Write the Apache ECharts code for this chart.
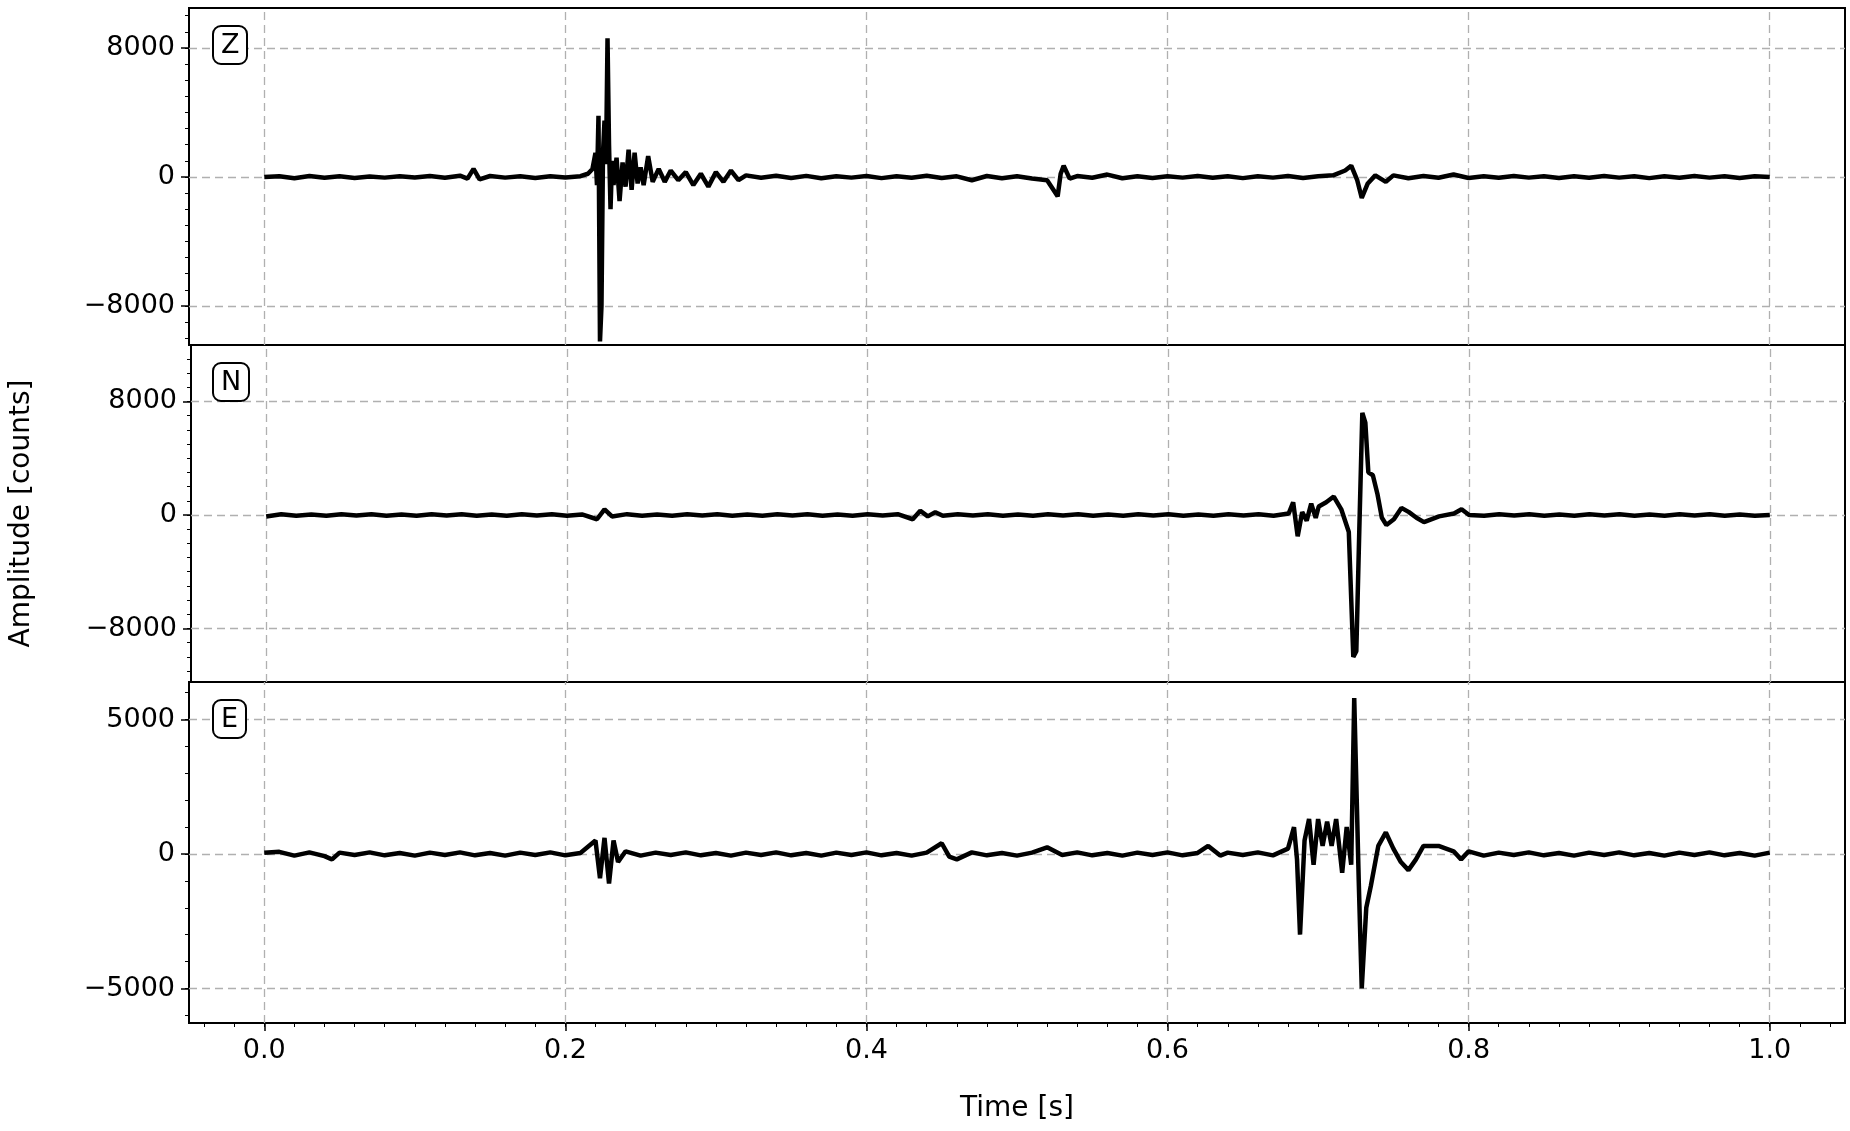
<!DOCTYPE html>
<html><head><meta charset="utf-8">
<script src="https://cdn.jsdelivr.net/npm/echarts@6/dist/echarts.min.js"></script>
<style>html,body{margin:0;padding:0;background:#fff}#c{width:1850px;height:1131px}</style>
</head><body><div id="c"></div>
<script>
const channels = ['Z','N','E'];
const xTicks = [0,0.2,0.4,0.6,0.8,1.0];
const zTicks = [-8000,0,8000];
const nTicks = [-8000,0,8000];
const eTicks = [-5000,0,5000];
const zData = [[0,0],[0.01,50],[0.02,-80],[0.03,60],[0.04,-50],[0.05,40],[0.06,-60],[0.07,30],[0.08,-40],[0.09,50],[0.1,-30],[0.11,60],[0.12,-50],[0.13,80],[0.135,-100],[0.139,500],[0.143,-150],[0.15,60],[0.16,-40],[0.17,50],[0.18,-60],[0.19,40],[0.2,-30],[0.21,50],[0.215,200],[0.218,500],[0.22,1500],[0.221,-500],[0.222,3800],[0.223,-10200],[0.224,-8000],[0.225,1500],[0.226,3500],[0.227,800],[0.228,8600],[0.229,2000],[0.23,-2000],[0.231,1000],[0.232,-500],[0.234,1200],[0.236,-1500],[0.238,900],[0.24,-600],[0.242,1700],[0.244,-800],[0.246,1500],[0.248,-400],[0.25,600],[0.252,-500],[0.255,1300],[0.258,-300],[0.262,500],[0.266,-300],[0.27,400],[0.275,-200],[0.28,300],[0.285,-500],[0.29,200],[0.295,-600],[0.3,300],[0.305,-300],[0.31,400],[0.315,-200],[0.32,100],[0.33,-50],[0.34,80],[0.35,-60],[0.36,70],[0.37,-80],[0.38,50],[0.39,-40],[0.4,60],[0.41,-70],[0.42,40],[0.43,-50],[0.44,80],[0.45,-60],[0.46,40],[0.47,-200],[0.48,60],[0.49,-80],[0.5,50],[0.51,-100],[0.52,-200],[0.527,-1200],[0.529,200],[0.531,700],[0.535,-100],[0.54,60],[0.55,-50],[0.56,150],[0.57,-80],[0.58,40],[0.59,-60],[0.6,50],[0.61,-40],[0.62,60],[0.63,-50],[0.64,40],[0.65,-70],[0.66,50],[0.67,-40],[0.68,60],[0.69,-60],[0.7,50],[0.71,100],[0.718,400],[0.722,700],[0.726,-200],[0.729,-1300],[0.733,-400],[0.738,100],[0.745,-300],[0.75,100],[0.76,-80],[0.77,60],[0.78,-50],[0.79,150],[0.8,-60],[0.81,40],[0.82,-50],[0.83,60],[0.84,-40],[0.85,50],[0.86,-60],[0.87,40],[0.88,-50],[0.89,60],[0.9,-40],[0.91,50],[0.92,-70],[0.93,40],[0.94,-50],[0.95,60],[0.96,-40],[0.97,50],[0.98,-60],[0.99,40],[1.0,0]];
const nData = [[0,-100],[0.01,50],[0.02,-60],[0.03,40],[0.04,-50],[0.05,60],[0.06,-40],[0.07,50],[0.08,-60],[0.09,40],[0.1,-50],[0.11,60],[0.12,-40],[0.13,50],[0.14,-60],[0.15,40],[0.16,-50],[0.17,60],[0.18,-40],[0.19,50],[0.2,-60],[0.21,40],[0.22,-300],[0.225,400],[0.23,-100],[0.24,60],[0.25,-50],[0.26,40],[0.27,-60],[0.28,50],[0.29,-40],[0.3,60],[0.31,-50],[0.32,40],[0.33,-60],[0.34,50],[0.35,-40],[0.36,60],[0.37,-50],[0.38,40],[0.39,-60],[0.4,50],[0.41,-40],[0.42,60],[0.43,-300],[0.435,300],[0.44,-100],[0.445,200],[0.45,-60],[0.46,50],[0.47,-40],[0.48,60],[0.49,-50],[0.5,40],[0.51,-60],[0.52,50],[0.53,-40],[0.54,60],[0.55,-50],[0.56,40],[0.57,-60],[0.58,50],[0.59,-40],[0.6,60],[0.61,-50],[0.62,40],[0.63,-60],[0.64,50],[0.65,-40],[0.66,60],[0.67,-50],[0.68,100],[0.683,900],[0.686,-1500],[0.689,200],[0.692,-400],[0.695,800],[0.698,-200],[0.7,600],[0.705,900],[0.71,1300],[0.715,400],[0.72,-1200],[0.723,-10000],[0.725,-9600],[0.727,-1000],[0.729,7200],[0.731,6500],[0.733,3000],[0.736,2800],[0.739,1500],[0.742,-200],[0.745,-700],[0.75,-300],[0.755,500],[0.76,200],[0.765,-200],[0.77,-500],[0.78,-100],[0.79,100],[0.795,400],[0.8,0],[0.81,-60],[0.82,50],[0.83,-40],[0.84,60],[0.85,-50],[0.86,40],[0.87,-60],[0.88,50],[0.89,-40],[0.9,60],[0.91,-50],[0.92,40],[0.93,-60],[0.94,50],[0.95,-40],[0.96,60],[0.97,-50],[0.98,40],[0.99,-60],[1.0,0]];
const eData = [[0,50],[0.01,80],[0.02,-60],[0.03,60],[0.04,-80],[0.045,-200],[0.05,50],[0.06,-40],[0.07,60],[0.08,-50],[0.09,40],[0.1,-60],[0.11,50],[0.12,-40],[0.13,60],[0.14,-50],[0.15,40],[0.16,-60],[0.17,50],[0.18,-40],[0.19,60],[0.2,-50],[0.21,40],[0.22,500],[0.223,-900],[0.226,600],[0.229,-1100],[0.232,500],[0.235,-300],[0.24,100],[0.25,-60],[0.26,50],[0.27,-40],[0.28,60],[0.29,-50],[0.3,40],[0.31,-60],[0.32,50],[0.33,-40],[0.34,60],[0.35,-50],[0.36,40],[0.37,-60],[0.38,50],[0.39,-40],[0.4,60],[0.41,-50],[0.42,40],[0.43,-60],[0.44,50],[0.45,400],[0.455,-100],[0.46,-200],[0.47,60],[0.48,-50],[0.49,40],[0.5,-60],[0.51,50],[0.52,250],[0.53,-40],[0.54,60],[0.55,-50],[0.56,40],[0.57,-60],[0.58,50],[0.59,-40],[0.6,60],[0.61,-50],[0.62,40],[0.627,300],[0.635,-60],[0.64,50],[0.65,-40],[0.66,60],[0.67,-50],[0.68,200],[0.684,1000],[0.686,-200],[0.688,-3000],[0.691,500],[0.694,1300],[0.697,-400],[0.7,1300],[0.703,300],[0.706,1200],[0.709,300],[0.712,1300],[0.716,-700],[0.719,1000],[0.722,-400],[0.724,5800],[0.727,-1000],[0.729,-5000],[0.732,-2000],[0.735,-1200],[0.74,300],[0.745,800],[0.75,200],[0.755,-300],[0.76,-600],[0.765,-200],[0.77,300],[0.78,300],[0.79,100],[0.795,-200],[0.8,100],[0.81,-60],[0.82,50],[0.83,-40],[0.84,60],[0.85,-50],[0.86,40],[0.87,-60],[0.88,50],[0.89,-40],[0.9,60],[0.91,-50],[0.92,40],[0.93,-60],[0.94,50],[0.95,-40],[0.96,60],[0.97,-50],[0.98,40],[0.99,-60],[1.0,50]];

const datas = [zData, nData, eData];
const ticks = [zTicks, nTicks, eTicks];
const minors = [1000, 1000, 1000];
const ranges = [[-10420,10480],[-11770,11980],[-6283,6394]];
const grids = [{top:8,height:337},{top:345,height:337},{top:682,height:341}];
const font = 'DejaVu Sans';
const minorVals = (r, step) => { const a=[]; for (let v=Math.ceil(r[0]/step)*step; v<=r[1]; v+=step) a.push(v); return a; };
const xMinor = minorVals([-0.05,1.05],0.02).map(v=>+v.toFixed(2));

const option = {grid:[],xAxis:[],yAxis:[],series:[],animation:false,
  title: channels.map((c,i)=>({text:c,left:213,top:grids[i].top+18,
    textStyle:{fontFamily:font,fontSize:27,fontWeight:'normal',color:'#000'},
    padding:[6,8,5,8],borderWidth:2,borderColor:'#000',borderRadius:8,backgroundColor:'#fff'}))
};
channels.forEach((c,i)=>{
  const bottom = i===2;
  option.grid.push({left:189,right:5,top:grids[i].top,height:grids[i].height,show:true,borderColor:'#000',borderWidth:2,backgroundColor:'transparent'});
  option.xAxis.push({type:'value',gridIndex:i,min:-0.05,max:1.05,position:'bottom',
    axisLine:{show:false,onZero:false},splitLine:{show:false},
    axisTick:{show:bottom,customValues:xTicks,length:8,lineStyle:{color:'#000',width:1.5}},
    axisLabel:{show:bottom,customValues:xTicks,formatter:v=>v.toFixed(1),fontFamily:font,fontSize:27,color:'#000',margin:14},
    name:bottom?'Time [s]':'',nameLocation:'middle',nameGap:72,nameTextStyle:{fontFamily:font,fontSize:28,color:'#000'}});
  option.xAxis.push({type:'value',gridIndex:i,min:-0.05,max:1.05,show:bottom,position:'bottom',
    axisLine:{show:false,onZero:false},splitLine:{show:false},axisLabel:{show:false},
    axisTick:{show:bottom,customValues:xMinor,length:4,lineStyle:{color:'#000',width:1}}});
  const r = ranges[i];
  option.yAxis.push({type:'value',gridIndex:i,min:r[0],max:r[1],position:'left',
    axisLine:{show:false,onZero:false},splitLine:{show:false},
    axisTick:{customValues:ticks[i],length:8,lineStyle:{color:'#000',width:1.5}},
    axisLabel:{customValues:ticks[i],formatter:v=>v<0?'\u2212'+(-v):String(v),fontFamily:font,fontSize:27,color:'#000',margin:14},
    name:i===1?'Amplitude [counts]':'',nameLocation:'middle',nameGap:155,nameTextStyle:{fontFamily:font,fontSize:28,color:'#000'}});
  option.yAxis.push({type:'value',gridIndex:i,min:r[0],max:r[1],position:'left',
    axisLine:{show:false,onZero:false},splitLine:{show:false},axisLabel:{show:false},
    axisTick:{customValues:minorVals(r,minors[i]),length:4,lineStyle:{color:'#000',width:1}}});
  option.series.push({type:'line',xAxisIndex:2*i,yAxisIndex:2*i,data:datas[i],showSymbol:false,
    lineStyle:{color:'#000',width:4.5},z:3,
    markLine:{silent:true,symbol:'none',label:{show:false},lineStyle:{color:'#b0b0b0',type:[8,5],width:1.3},z:1,
      data:[...xTicks.map(x=>({xAxis:x})),...ticks[i].map(y=>({yAxis:y}))]}});
});
const chart = echarts.init(document.getElementById('c'));
chart.setOption(option);
</script></body></html>
